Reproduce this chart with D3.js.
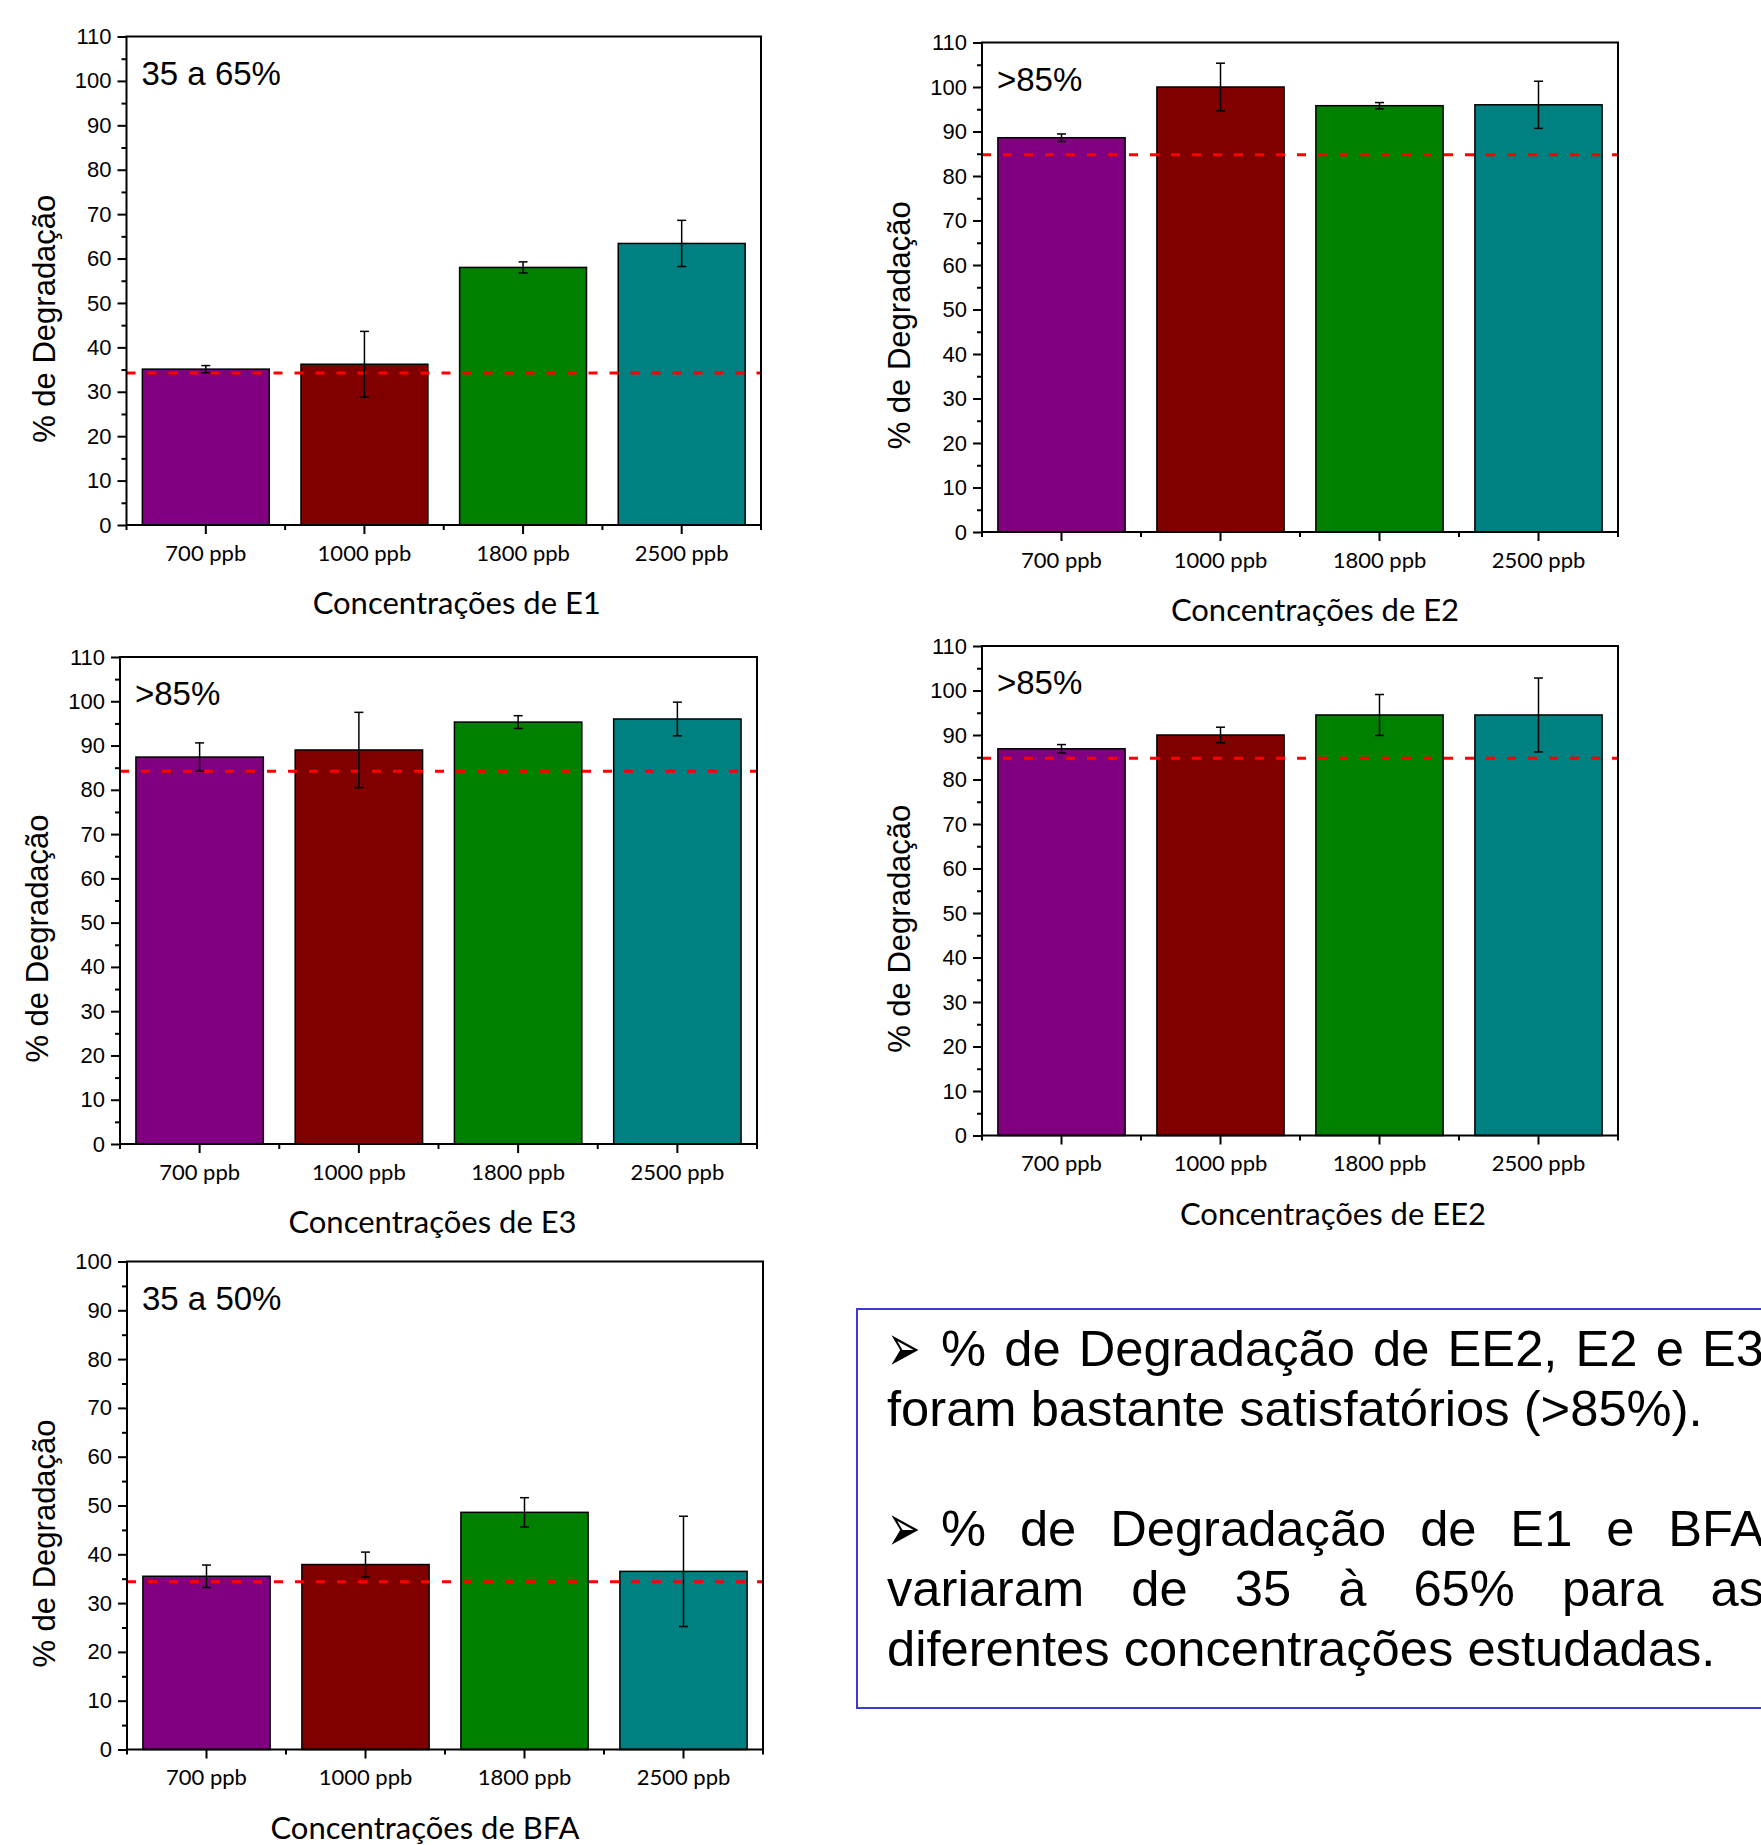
<!DOCTYPE html>
<html>
<head>
<meta charset="utf-8">
<script src="https://cdn.jsdelivr.net/npm/d3@7"></script>
<style>
  html, body { margin: 0; padding: 0; background: #fff; overflow: hidden; }
  #wrap { position: relative; width: 1761px; height: 1845px; overflow: hidden; }
  #notes {
    position: absolute; left: 856px; top: 1308px; width: 1000px; height: 401px;
    box-sizing: border-box; border: 2px solid #3b3bd4;
  }
  #notes .txt {
    position: absolute; left: 29px; top: 9px; width: 877px;
    font-family: "Liberation Sans", Arial, sans-serif; font-size: 50.7px; line-height: 60px;
    color: #000; text-align: justify;
  }
  #notes p { margin: 0; }
  #notes .gap { height: 60px; }
  #notes .bul { display: inline-block; width: 54px; line-height: 0; font-family: "DejaVu Sans"; font-size: 42px; vertical-align: 3px; }
  #notes .bul span { display: inline-block; transform: scale(0.95, 1.6); transform-origin: 0 50%; }
</style>
</head>
<body>
<div id="wrap">
  <svg id="chart" width="1761" height="1845"></svg>
  <div id="notes"><div class="txt"></div></div>
</div>
<script>
// categories and bar colours (same in every panel)
const categories = ["700 ppb", "1000 ppb", "1800 ppb", "2500 ppb"];
const barColors = ["#800080", "#800000", "#008000", "#008080"];

// % degradation, with error bars
const e1Values  = [35.1, 36.2, 58.0, 63.4];
const e1Errors  = [0.8, 7.4, 1.25, 5.2];
const e2Values  = [88.6, 100.0, 95.8, 96.0];
const e2Errors  = [0.85, 5.35, 0.7, 5.3];
const e3Values  = [87.4, 89.0, 95.3, 96.0];
const e3Errors  = [3.2, 8.5, 1.45, 3.8];
const ee2Values = [86.9, 90.0, 94.5, 94.5];
const ee2Errors = [0.95, 1.75, 4.6, 8.3];
const bfaValues = [35.5, 37.9, 48.6, 36.5];
const bfaErrors = [2.3, 2.55, 3.0, 11.3];

// dashed reference lines, y axis maxima, texts
const thresholds = [34.2, 84.8, 84.2, 84.8, 34.4];
const yMaxima = [110, 110, 110, 110, 100];
const rangeLabels = ["35 a 65%", ">85%", ">85%", ">85%", "35 a 50%"];
const xTitles = ["Concentrações de E1", "Concentrações de E2", "Concentrações de E3",
                 "Concentrações de EE2", "Concentrações de BFA"];
const yTitle = "% de Degradação";

const noteParagraphs = [
  "% de Degradação de EE2, E2 e E3 foram bastante satisfatórios (>85%).",
  "% de Degradação de E1 e BFA variaram de 35 à 65% para as diferentes concentrações estudadas."
];

// panel layout (pixels)
const layout = [
  {left: 126.5, top: 36.5, right: 761, bottom: 525, titleDx: 13},
  {left: 982, top: 42.5, right: 1618, bottom: 532, titleDx: 15},
  {left: 120, top: 657, right: 757, bottom: 1144, titleDx: -6},
  {left: 982, top: 646, right: 1618, bottom: 1135.5, titleDx: 33},
  {left: 127, top: 1261.5, right: 763, bottom: 1749.5, titleDx: -20}
];

const series = [
  [e1Values, e1Errors], [e2Values, e2Errors], [e3Values, e3Errors],
  [ee2Values, ee2Errors], [bfaValues, bfaErrors]
];

const svg = d3.select("#chart");

function drawPanel(i){
  const L = layout[i];
  const [vals, errs] = series[i];
  const pts = categories.map((c, k) => ({cat: c, v: vals[k], e: errs[k], color: barColors[k]}));
  const g = svg.append("g");

  const x = d3.scaleBand().domain(categories).range([L.left, L.right])
      .paddingInner(0.2).paddingOuter(0.1);
  const y = d3.scaleLinear().domain([0, yMaxima[i]]).range([L.bottom, L.top]);

  // bars
  g.selectAll("rect.bar").data(pts).enter().append("rect")
      .attr("class", "bar")
      .attr("x", d => x(d.cat))
      .attr("y", d => y(d.v))
      .attr("width", x.bandwidth())
      .attr("height", d => y(0) - y(d.v))
      .attr("fill", d => d.color)
      .attr("stroke", "#000")
      .attr("stroke-width", 1.5);

  // red dashed reference line
  g.append("line")
      .attr("x1", L.left).attr("x2", L.right)
      .attr("y1", y(thresholds[i])).attr("y2", y(thresholds[i]))
      .attr("stroke", "#ff0000").attr("stroke-width", 3)
      .attr("stroke-dasharray", "9,12");

  // error bars
  const cx = d => x(d.cat) + x.bandwidth() / 2;
  const eb = g.selectAll("g.err").data(pts).enter().append("g").attr("class", "err")
      .attr("stroke", "#000").attr("stroke-width", 1.5);
  eb.append("line").attr("x1", cx).attr("x2", cx)
      .attr("y1", d => y(d.v - d.e)).attr("y2", d => y(d.v + d.e));
  eb.append("line").attr("x1", d => cx(d) - 4.5).attr("x2", d => cx(d) + 4.5)
      .attr("y1", d => y(d.v + d.e)).attr("y2", d => y(d.v + d.e));
  eb.append("line").attr("x1", d => cx(d) - 4.5).attr("x2", d => cx(d) + 4.5)
      .attr("y1", d => y(d.v - d.e)).attr("y2", d => y(d.v - d.e));

  // y axis, major + minor ticks
  const yAxis = g.append("g").attr("transform", `translate(${L.left},0)`)
      .call(d3.axisLeft(y).tickValues(d3.range(0, yMaxima[i] + 1, 10)).tickSize(9).tickPadding(6));
  yAxis.select(".domain").remove();
  yAxis.selectAll("line").attr("stroke-width", 2);
  yAxis.selectAll("text").attr("font-family", "Liberation Sans, Arial").attr("font-size", 22).attr("fill", "#000");

  const yMinor = g.append("g").attr("transform", `translate(${L.left},0)`)
      .call(d3.axisLeft(y).tickValues(d3.range(5, yMaxima[i], 10)).tickSize(5).tickFormat(""));
  yMinor.select(".domain").remove();
  yMinor.selectAll("line").attr("stroke-width", 2);

  // x axis
  const xAxis = g.append("g").attr("transform", `translate(0,${L.bottom})`)
      .call(d3.axisBottom(x).tickSize(9).tickPadding(11));
  xAxis.select(".domain").remove();
  xAxis.selectAll("line").attr("stroke-width", 2);
  xAxis.selectAll("text").attr("font-family", "Lato, sans-serif").attr("font-size", 22).attr("fill", "#000");

  const bounds = categories.map(c => x(c) - x.step() * x.paddingOuter()).concat([L.right]);
  g.selectAll("line.xminor").data(bounds).enter().append("line")
      .attr("class", "xminor")
      .attr("x1", d => d).attr("x2", d => d)
      .attr("y1", L.bottom).attr("y2", L.bottom + 5)
      .attr("stroke", "#000").attr("stroke-width", 2);

  // frame
  g.append("rect")
      .attr("x", L.left).attr("y", L.top)
      .attr("width", L.right - L.left).attr("height", L.bottom - L.top)
      .attr("fill", "none").attr("stroke", "#000").attr("stroke-width", 2);

  // texts
  g.append("text")
      .attr("x", L.left + 15).attr("y", L.top + 48)
      .attr("font-family", "Liberation Sans, Arial").attr("font-size", 33)
      .text(rangeLabels[i]);

  g.append("text")
      .attr("transform", `translate(${L.left - 72},${(L.top + L.bottom) / 2 + 38}) rotate(-90)`)
      .attr("text-anchor", "middle")
      .attr("font-family", "Liberation Sans, Arial").attr("font-size", 31)
      .text(yTitle);

  g.append("text")
      .attr("x", (L.left + L.right) / 2 + L.titleDx).attr("y", L.bottom + 89)
      .attr("text-anchor", "middle")
      .attr("font-family", "Lato, sans-serif").attr("font-size", 31)
      .text(xTitles[i]);
}

for (let i = 0; i < layout.length; i++){
  drawPanel(i);
}

// note box text
const txt = d3.select("#notes .txt");
noteParagraphs.forEach((p, k) => {
  if (k > 0) txt.append("div").attr("class", "gap");
  const para = txt.append("p");
  para.append("span").attr("class", "bul").append("span").text("➢");
  para.append("span").text(p);
});
</script>
</body>
</html>
